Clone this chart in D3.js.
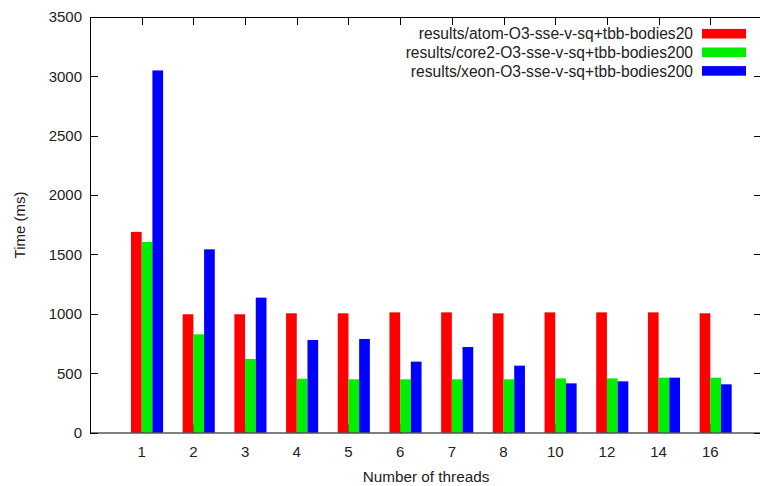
<!DOCTYPE html>
<html>
<head>
<meta charset="utf-8">
<script src="https://cdn.jsdelivr.net/npm/d3@7"></script>
<style>
	body { margin: 0; background: #fff; }
	text { font-family: "Liberation Sans", Arial, sans-serif; fill: #222; }
</style>
</head>
<body>
<div class="chart"></div>
<script>
// thread counts on the x axis
const threads = ['1', '2', '3', '4', '5', '6', '7', '8', '10', '12', '14', '16'];
const seriesNames = [
	'results/atom-O3-sse-v-sq+tbb-bodies20',
	'results/core2-O3-sse-v-sq+tbb-bodies200',
	'results/xeon-O3-sse-v-sq+tbb-bodies200'
];
const atom = [1690, 996, 996, 1004, 1004, 1012, 1012, 1004, 1012, 1012, 1012, 1004];
const core2 = [1605, 827, 619, 453, 448, 448, 448, 448, 456, 456, 462, 462];
const xeon = [3050, 1543, 1136, 779, 788, 597, 720, 563, 414, 431, 462, 406];
const yTicks = [0, 500, 1000, 1500, 2000, 2500, 3000, 3500];
const colors = ['#ff0000', '#00ee00', '#0000ff'];

const width = 760, height = 486;
const plotL = 90, plotR = 762, plotT = 17, plotB = 432.5;

const svg = d3.select('.chart').append('svg')
	.attr('width', width)
	.attr('height', height);

const x = d3.scalePoint()
	.domain(threads)
	.range([plotL, plotR])
	.padding(1);

const y = d3.scaleLinear()
	.domain([0, 3500])
	.range([plotB, plotT]);

const barW = x.step() * 0.207;
const tickLen = 8;

// ticks on all four sides, pointing inward (gnuplot style)
const axes = svg.append('g').attr('stroke', '#000').attr('stroke-width', 1);
yTicks.forEach(t => {
	let yy = Math.round(y(t)) + 0.5;
	axes.append('line').attr('x1', plotL).attr('x2', plotL + tickLen).attr('y1', yy).attr('y2', yy);
	axes.append('line').attr('x1', plotR).attr('x2', plotR - tickLen).attr('y1', yy).attr('y2', yy);
});
threads.forEach(t => {
	let xx = Math.round(x(t)) + 0.5;
	axes.append('line').attr('x1', xx).attr('x2', xx).attr('y1', plotT).attr('y2', plotT + tickLen);
	axes.append('line').attr('x1', xx).attr('x2', xx).attr('y1', plotB).attr('y2', plotB - tickLen);
});

// bars
const series = [atom, core2, xeon];
series.forEach((vals, s) => {
	svg.append('g')
		.selectAll('rect')
		.data(vals)
		.enter().append('rect')
		.attr('x', (d, i) => x(threads[i]) + (s - 1) * barW)
		.attr('y', d => y(d))
		.attr('width', barW)
		.attr('height', d => y(0) - y(d))
		.attr('fill', colors[s]);
});

// border
svg.append('rect')
	.attr('x', plotL + 0.5)
	.attr('y', plotT + 0.5)
	.attr('width', plotR - plotL)
	.attr('height', plotB - plotT)
	.attr('fill', 'none')
	.attr('stroke', '#000')
	.attr('stroke-width', 1);

// tick labels
svg.append('g')
	.selectAll('text')
	.data(yTicks)
	.enter().append('text')
	.attr('x', plotL - 8)
	.attr('y', d => y(d))
	.attr('dy', '0.36em')
	.attr('text-anchor', 'end')
	.style('font-size', '15px')
	.text(d => d);

svg.append('g')
	.selectAll('text')
	.data(threads)
	.enter().append('text')
	.attr('x', d => x(d))
	.attr('y', 457)
	.attr('text-anchor', 'middle')
	.style('font-size', '15px')
	.text(d => d);

// axis titles
svg.append('text')
	.attr('x', 426)
	.attr('y', 482)
	.attr('text-anchor', 'middle')
	.style('font-size', '15.3px')
	.text('Number of threads');

svg.append('text')
	.attr('transform', 'translate(25,225) rotate(-90)')
	.attr('text-anchor', 'middle')
	.style('font-size', '15px')
	.text('Time (ms)');

// legend
const legend = svg.append('g');
seriesNames.forEach((name, i) => {
	let cy = 33.7 + i * 18.6;
	legend.append('text')
		.attr('x', 693)
		.attr('y', cy)
		.attr('dy', '0.36em')
		.attr('text-anchor', 'end')
		.style('font-size', '15.6px')
		.text(name);
	legend.append('rect')
		.attr('x', 702)
		.attr('y', cy - 4.8)
		.attr('width', 44)
		.attr('height', 9.6)
		.attr('fill', colors[i]);
});
</script>
</body>
</html>
